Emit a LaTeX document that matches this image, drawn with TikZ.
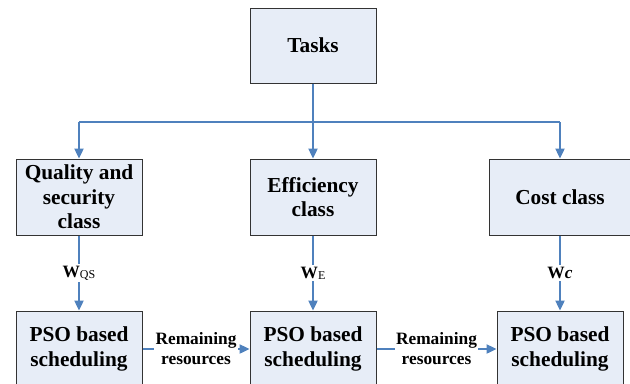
\documentclass[tikz,border=0pt]{standalone}
\usepackage{fontspec}
\setmainfont{Liberation Serif}
\usetikzlibrary{arrows.meta}
\definecolor{boxfill}{RGB}{231,237,247}
\definecolor{linkblue}{RGB}{79,129,189}
\begin{document}
\begin{tikzpicture}[x=0.75pt,y=-0.75pt,
  box/.style={draw=black!80,line width=0.75pt,fill=boxfill,minimum width=94.5pt,minimum height=57pt,
    align=center,inner sep=1pt,font=\fontsize{16}{18.4}\selectfont\bfseries},
  wire/.style={draw=linkblue,line width=0.9pt},
  arr/.style={wire,-{Triangle[length=7.5pt,width=7pt]}},
  wlabel/.style={fill=white,inner sep=1.5pt,font=\fontsize{13}{15}\selectfont\bfseries},
  rlabel/.style={fill=white,inner sep=1pt,align=center,font=\fontsize{13}{15}\selectfont\bfseries}]
\useasboundingbox (0,0) rectangle (630,383);
\clip (0,0) rectangle (630,383);
\node[box,minimum height=56.25pt] (tasks) at (313,45.5) {Tasks};
\node[box] (qs) at (79,197) {Quality and\\security\\class};
\node[box] (eff) at (313,197) {Efficiency\\class};
\node[box,minimum width=106.5pt] (cost) at (560,197) {Cost class};
\node[box] (pso1) at (79,349) {PSO based\\scheduling};
\node[box] (pso2) at (313,349) {PSO based\\scheduling};
\node[box] (pso3) at (560,349) {PSO based\\scheduling};
\coordinate (bus) at (313,122);
% distribution bus
\draw[wire] (tasks.south) -- (bus);
\draw[wire] (qs.north |- bus) -- (cost.north |- bus);
\draw[arr] (qs.north |- bus) -- (qs.north);
\draw[arr] (bus) -- (eff.north);
\draw[arr] (cost.north |- bus) -- (cost.north);
% weights
\draw[arr] (qs.south) -- node[wlabel] {W\raisebox{-0.5pt}{\fontsize{9}{10}\selectfont\mdseries QS}} (pso1.north);
\draw[arr] (eff.south) -- node[wlabel] {W\raisebox{-0.5pt}{\fontsize{9}{10}\selectfont\mdseries E}} (pso2.north);
\draw[arr] (cost.south) -- node[wlabel] {W\textit{c}} (pso3.north);
% remaining resources
\draw[arr] (pso1.east) -- node[rlabel] {Remaining\\resources} (pso2.west);
\draw[arr] (pso2.east) -- node[rlabel] {Remaining\\resources} (pso3.west);
\end{tikzpicture}
\end{document}
